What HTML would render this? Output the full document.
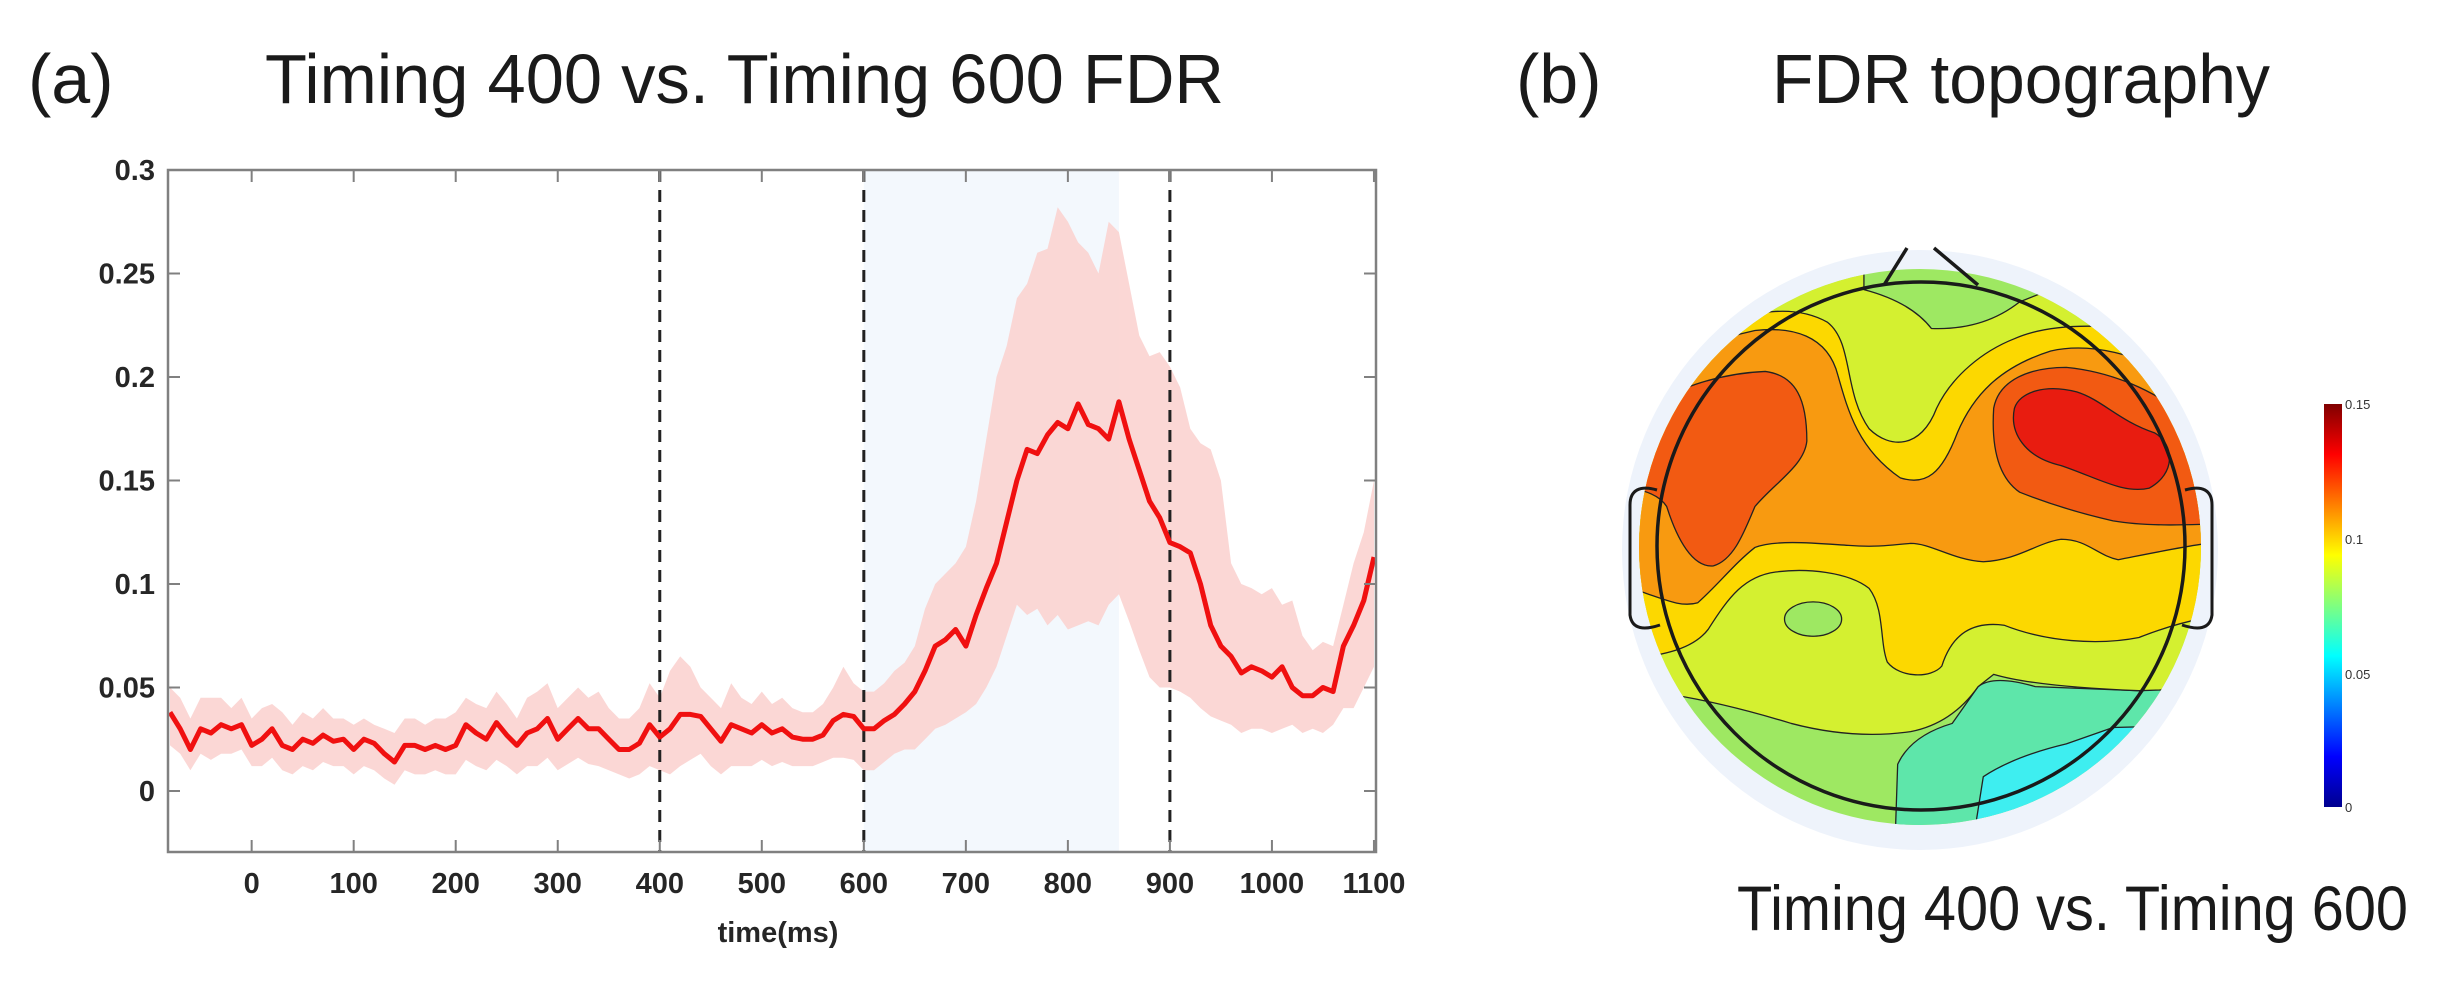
<!DOCTYPE html>
<html><head><meta charset="utf-8"><style>
html,body{margin:0;padding:0;background:#fff;width:2447px;height:990px;overflow:hidden}
svg{display:block}
text{font-family:"Liberation Sans",Arial,sans-serif}
</style></head><body>
<svg id="fig" width="2447" height="990" viewBox="0 0 2447 990" xmlns="http://www.w3.org/2000/svg">
  <text x="28" y="103" font-size="70" fill="#1a1a1a">(a)</text>
  <text x="265" y="103" font-size="70" fill="#1a1a1a" textLength="959" lengthAdjust="spacingAndGlyphs">Timing 400 vs. Timing 600  FDR</text>
  <text x="1516" y="103" font-size="70" fill="#1a1a1a">(b)</text>
  <text x="1772" y="103" font-size="70" fill="#1a1a1a" textLength="498" lengthAdjust="spacingAndGlyphs">FDR topography</text>
  <text x="1737" y="930" font-size="63" fill="#1a1a1a" textLength="671" lengthAdjust="spacingAndGlyphs">Timing 400 vs. Timing 600</text>
  <g id="chart"></g>
  <g id="topo">
    <defs>
      <clipPath id="discClip"><ellipse cx="1920" cy="547" rx="281" ry="278"/></clipPath>
    </defs>
    <ellipse cx="1920" cy="550" rx="298" ry="300" fill="#eef3fb"/>
    <g clip-path="url(#discClip)">
      <g transform="translate(1620,220) scale(0.519,0.4093)" stroke="#222" stroke-width="1.3" stroke-linejoin="round">
        <rect x="-50" y="-50" width="1300" height="1600" fill="#9ee862" stroke="none"/>
        <path vector-effect="non-scaling-stroke" fill="#5ee6aa" d="M530,1520 L535,1330 Q560,1260 640,1230 L690,1140 Q720,1110 800,1140 L1000,1150 L1250,1130 L1250,1520 Z"/>
        <path vector-effect="non-scaling-stroke" fill="#3eeef0" d="M680,1520 L700,1360 Q760,1310 860,1280 L950,1240 L1250,1230 L1250,1520 Z"/>
        <path vector-effect="non-scaling-stroke" fill="#d4f030" d="M-50,-50 L470,-50 L470,170 Q560,200 600,265 Q700,270 770,200 L830,170 L830,-50 L1250,-50 L1250,1140 L1000,1150 Q800,1140 720,1110 L690,1140 Q640,1230 560,1250 Q450,1270 330,1230 Q200,1180 100,1160 L-50,1160 Z"/>
        <ellipse vector-effect="non-scaling-stroke" cx="372" cy="975" rx="55" ry="42" fill="#9ee862"/>
        <path vector-effect="non-scaling-stroke" fill="#fcd800" d="M-50,380 C60,320 120,270 180,255 C250,230 330,200 400,250 C450,300 430,420 480,510 C520,560 580,560 610,460 C640,380 700,320 760,290 C850,240 1000,250 1250,330 L1250,960 C1150,960 1080,980 1000,1020 C920,1040 820,1030 740,990 C680,980 640,1010 620,1090 C600,1120 540,1120 515,1080 C500,1030 510,950 480,900 C440,860 360,850 300,860 C240,870 210,920 170,1000 C140,1050 80,1070 -50,1080 Z"/>
        <path vector-effect="non-scaling-stroke" fill="#f89a10" d="M-50,420 C60,360 150,300 260,270 C330,260 400,280 420,380 C440,470 460,560 540,630 C590,650 620,620 650,520 C680,430 730,360 830,320 C900,300 1000,320 1100,410 L1250,450 L1250,780 C1150,780 1080,800 960,830 C920,820 900,780 850,780 C800,790 770,830 700,835 C640,830 600,790 560,790 C520,795 490,800 440,795 C380,790 300,780 260,800 C220,840 190,890 150,935 C110,950 80,920 -50,870 Z"/>
        <path vector-effect="non-scaling-stroke" fill="#f25a12" d="M-50,450 L60,450 C100,420 180,375 280,370 C340,380 360,440 360,540 C355,600 300,640 260,700 C240,760 220,830 180,845 C140,850 110,780 90,700 C70,660 20,650 -50,650 Z"/>
        <path vector-effect="non-scaling-stroke" fill="#f25a12" d="M720,460 C730,390 790,360 860,360 C940,370 1030,410 1110,500 L1200,540 L1200,740 C1100,745 1020,750 950,735 C880,715 820,690 770,665 C730,630 715,560 720,460 Z"/>
        <path vector-effect="non-scaling-stroke" fill="#e81c10" d="M760,460 C770,420 820,400 880,420 C930,440 960,490 1030,520 C1070,550 1070,620 1020,655 C970,670 920,630 850,600 C780,580 750,520 760,460 Z"/>
      </g>
    </g>
    <circle cx="1921" cy="546" r="264" fill="none" stroke="#1a1a1a" stroke-width="3.5"/>
    <path d="M1884,285 L1907,248 M1978,285 L1934,248" fill="none" stroke="#1a1a1a" stroke-width="3.5"/>
    <path d="M1657,490 C1640,485 1630,490 1630,505 L1630,615 C1632,630 1645,630 1660,625" fill="none" stroke="#1a1a1a" stroke-width="3"/>
    <path d="M2185,490 C2202,485 2212,490 2212,505 L2212,615 C2210,630 2197,630 2182,625" fill="none" stroke="#1a1a1a" stroke-width="3"/>
    <defs>
      <linearGradient id="jet" x1="0" y1="1" x2="0" y2="0">
        <stop offset="0" stop-color="#00008f"/>
        <stop offset="0.125" stop-color="#0000ff"/>
        <stop offset="0.375" stop-color="#00ffff"/>
        <stop offset="0.625" stop-color="#ffff00"/>
        <stop offset="0.875" stop-color="#ff0000"/>
        <stop offset="1" stop-color="#800000"/>
      </linearGradient>
    </defs>
    <rect x="2324" y="404" width="18" height="403" fill="url(#jet)"/>
    <g font-size="13" fill="#333">
      <text x="2345" y="409">0.15</text>
      <text x="2345" y="544">0.1</text>
      <text x="2345" y="679">0.05</text>
      <text x="2345" y="812">0</text>
    </g>
  </g>
</svg>
<script>
const times = [-80,-70,-60,-50,-40,-30,-20,-10,0,10,20,30,40,50,60,70,80,90,100,110,120,130,140,150,160,170,180,190,200,210,220,230,240,250,260,270,280,290,300,310,320,330,340,350,360,370,380,390,400,410,420,430,440,450,460,470,480,490,500,510,520,530,540,550,560,570,580,590,600,610,620,630,640,650,660,670,680,690,700,710,720,730,740,750,760,770,780,790,800,810,820,830,840,850,860,870,880,890,900,910,920,930,940,950,960,970,980,990,1000,1010,1020,1030,1040,1050,1060,1070,1080,1090,1100];
const meanFdr = [0.038,0.030,0.020,0.030,0.028,0.032,0.030,0.032,0.022,0.025,0.030,0.022,0.020,0.025,0.023,0.027,0.024,0.025,0.020,0.025,0.023,0.018,0.014,0.022,0.022,0.020,0.022,0.020,0.022,0.032,0.028,0.025,0.033,0.027,0.022,0.028,0.030,0.035,0.025,0.030,0.035,0.030,0.030,0.025,0.020,0.020,0.023,0.032,0.026,0.030,0.037,0.037,0.036,0.030,0.024,0.032,0.030,0.028,0.032,0.028,0.030,0.026,0.025,0.025,0.027,0.034,0.037,0.036,0.030,0.030,0.034,0.037,0.042,0.048,0.058,0.070,0.073,0.078,0.070,0.085,0.098,0.110,0.130,0.150,0.165,0.163,0.172,0.178,0.175,0.187,0.177,0.175,0.170,0.188,0.170,0.155,0.140,0.132,0.120,0.118,0.115,0.100,0.080,0.070,0.065,0.057,0.060,0.058,0.055,0.060,0.050,0.046,0.046,0.050,0.048,0.070,0.080,0.092,0.113];
const upperFdr = [0.050,0.045,0.035,0.045,0.045,0.045,0.040,0.045,0.035,0.040,0.042,0.038,0.032,0.038,0.035,0.040,0.035,0.035,0.032,0.035,0.032,0.030,0.028,0.035,0.035,0.032,0.035,0.035,0.038,0.045,0.042,0.040,0.048,0.042,0.035,0.045,0.048,0.052,0.040,0.045,0.050,0.045,0.048,0.040,0.035,0.035,0.040,0.052,0.045,0.058,0.065,0.060,0.050,0.045,0.040,0.052,0.045,0.042,0.048,0.042,0.045,0.040,0.038,0.038,0.042,0.050,0.060,0.052,0.048,0.048,0.052,0.058,0.062,0.070,0.088,0.100,0.105,0.110,0.118,0.140,0.170,0.200,0.215,0.238,0.245,0.260,0.262,0.282,0.275,0.265,0.260,0.250,0.275,0.270,0.245,0.220,0.210,0.212,0.205,0.195,0.175,0.168,0.165,0.150,0.110,0.100,0.098,0.095,0.098,0.090,0.092,0.075,0.068,0.072,0.070,0.090,0.110,0.125,0.150];
const lowerFdr = [0.022,0.018,0.010,0.018,0.015,0.018,0.018,0.020,0.012,0.012,0.016,0.010,0.008,0.012,0.010,0.014,0.012,0.012,0.008,0.012,0.010,0.006,0.003,0.010,0.008,0.008,0.010,0.008,0.008,0.015,0.012,0.010,0.015,0.012,0.008,0.012,0.012,0.016,0.010,0.013,0.016,0.013,0.012,0.010,0.008,0.006,0.008,0.012,0.010,0.008,0.012,0.015,0.018,0.012,0.008,0.012,0.012,0.012,0.015,0.012,0.014,0.012,0.012,0.012,0.014,0.016,0.016,0.015,0.010,0.010,0.014,0.018,0.020,0.020,0.025,0.030,0.032,0.035,0.038,0.042,0.050,0.060,0.075,0.090,0.085,0.088,0.080,0.085,0.078,0.080,0.082,0.080,0.090,0.095,0.082,0.068,0.055,0.050,0.050,0.048,0.045,0.040,0.036,0.034,0.032,0.028,0.030,0.030,0.028,0.030,0.032,0.028,0.030,0.028,0.032,0.040,0.040,0.050,0.060];
const xTicks = [0,100,200,300,400,500,600,700,800,900,1000,1100];
const xTickLabels = ["0","100","200","300","400","500","600","700","800","900","1000","1100"];
const yTicks = [0,0.05,0.1,0.15,0.2,0.25,0.3];
const yTickLabels = ["0","0.05","0.1","0.15","0.2","0.25","0.3"];
const eventLines = [400,600,900];
const shadedWindow = [600,850];

const NS = "http://www.w3.org/2000/svg";
const L = 168, R = 1376, T = 170, B = 852;
const X0 = -82, X1 = 1102, Y0 = -0.0295, Y1 = 0.3;
function xs(t){ return L + (t - X0) / (X1 - X0) * (R - L); }
function ys(v){ return B - (v - Y0) / (Y1 - Y0) * (B - T); }
function mk(tag, attrs, parent){
  const e = document.createElementNS(NS, tag);
  for (const k in attrs) e.setAttribute(k, attrs[k]);
  parent.appendChild(e);
  return e;
}
const chart = document.getElementById('chart');

const shade = mk('rect', {x: xs(shadedWindow[0]), y: T, width: xs(shadedWindow[1]) - xs(shadedWindow[0]), height: B - T, fill: '#f3f8fd'}, chart);



let d = '';
for (let i = 0; i < times.length; i++) d += (i ? 'L' : 'M') + xs(times[i]).toFixed(1) + ',' + ys(upperFdr[i]).toFixed(1);
for (let i = times.length - 1; i >= 0; i--) d += 'L' + xs(times[i]).toFixed(1) + ',' + ys(lowerFdr[i]).toFixed(1);
d += 'Z';
const band = mk('path', {d: d, fill: '#fbd3d0', 'fill-opacity': '0.9'}, chart);



for (const ev of eventLines) {
  const ln = mk('line', {x1: xs(ev), x2: xs(ev), y1: T, y2: B, stroke: '#222', 'stroke-width': 3, 'stroke-dasharray': '12,8'}, chart);
  
  
}

let md = '';
for (let i = 0; i < times.length; i++) md += (i ? 'L' : 'M') + xs(times[i]).toFixed(1) + ',' + ys(meanFdr[i]).toFixed(1);
const line = mk('path', {d: md, fill: 'none', stroke: '#f01010', 'stroke-width': 5, 'stroke-linejoin': 'round'}, chart);



const frame = mk('rect', {x: L, y: T, width: R - L, height: B - T, fill: 'none', stroke: '#808080', 'stroke-width': 2.5}, chart);



for (let i = 0; i < xTicks.length; i++) {
  const x = xs(xTicks[i]);
  const tk = mk('path', {d: `M${x},${B}V${B-12}M${x},${T}V${T+12}`, stroke: '#808080', 'stroke-width': 2}, chart);
  
  
  const lb = mk('text', {x: x, y: 893, 'text-anchor': 'middle', 'font-size': 29, 'font-weight': 'bold', fill: '#262626'}, chart);
  lb.textContent = xTickLabels[i];
  
  
}
for (let i = 0; i < yTicks.length; i++) {
  const y = ys(yTicks[i]);
  const tk = mk('path', {d: `M${L},${y}H${L+12}M${R},${y}H${R-12}`, stroke: '#808080', 'stroke-width': 2}, chart);
  
  
  const lb = mk('text', {x: 155, y: y + 10, 'text-anchor': 'end', 'font-size': 29, 'font-weight': 'bold', fill: '#262626'}, chart);
  lb.textContent = yTickLabels[i];
  
  
}
const xt = mk('text', {x: 778, y: 942, 'text-anchor': 'middle', 'font-size': 29, 'font-weight': 'bold', fill: '#262626'}, chart);
xt.textContent = 'time(ms)';


</script>
</body></html>
